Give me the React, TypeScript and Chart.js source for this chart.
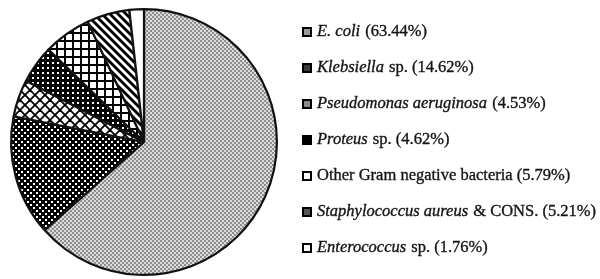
import React, { useEffect, useRef } from "react";
import { Chart, registerables } from "chart.js";

Chart.register(...registerables);

const names = [
  "E. coli",
  "Klebsiella",
  "Pseudomonas aeruginosa",
  "Proteus",
  "Other Gram negative bacteria",
  "Staphylococcus aureus",
  "Enterococcus",
];
const nameItalic = [true, true, true, true, false, true, true];
const suffixes = ["", " sp.", "", " sp.", "", " & CONS.", " sp."];
const percents = [63.44, 14.62, 4.53, 4.62, 5.79, 5.21, 1.76];

const FONT = '"Liberation Serif", serif';
const FONT_SIZE = 16.5;
const ICON_FILLS = ["#9a9a9a", "#3a3a3a", "#8a8a8a", "#000", "#fff", "#555", "#fff"];

function tile(size: number, draw: (g: CanvasRenderingContext2D, s: number) => void) {
  const c = document.createElement("canvas");
  c.width = size;
  c.height = size;
  const g = c.getContext("2d")!;
  draw(g, size);
  return c;
}

function diag(g: CanvasRenderingContext2D, s: number, dir: number, w: number) {
  g.strokeStyle = "#000";
  g.lineWidth = w;
  for (const off of [-s, 0, s]) {
    g.beginPath();
    if (dir > 0) {
      g.moveTo(off - 1, -1);
      g.lineTo(off + s + 1, s + 1);
    } else {
      g.moveTo(off + s + 1, -1);
      g.lineTo(off - 1, s + 1);
    }
    g.stroke();
  }
}

function makeTiles() {
  return [
    tile(4, (g) => {
      g.fillStyle = "#dcdcdc";
      g.fillRect(0, 0, 4, 4);
      g.fillStyle = "#8e8e8e";
      g.fillRect(0, 0, 2, 2);
      g.fillRect(2, 2, 2, 2);
    }),
    tile(6, (g) => {
      g.fillStyle = "#000";
      g.fillRect(0, 0, 6, 6);
      g.fillStyle = "#fff";
      g.fillRect(0, 0, 2, 2);
      g.fillRect(3, 3, 2, 2);
    }),
    tile(10, (g, s) => {
      g.fillStyle = "#fff";
      g.fillRect(0, 0, s, s);
      diag(g, s, 1, 1.8);
      diag(g, s, -1, 1.8);
    }),
    tile(5, (g) => {
      g.fillStyle = "#000";
      g.fillRect(0, 0, 5, 5);
      g.fillStyle = "#fff";
      g.fillRect(2, 2, 2, 2);
    }),
    tile(8, (g) => {
      g.fillStyle = "#fff";
      g.fillRect(0, 0, 8, 8);
      g.fillStyle = "#000";
      g.fillRect(0, 0, 2, 8);
      g.fillRect(0, 0, 8, 2);
    }),
    tile(8, (g, s) => {
      g.fillStyle = "#fff";
      g.fillRect(0, 0, s, s);
      diag(g, s, 1, 2.8);
    }),
    tile(4, (g) => {
      g.fillStyle = "#fff";
      g.fillRect(0, 0, 4, 4);
    }),
  ];
}

export default function App() {
  const ref = useRef<HTMLCanvasElement>(null);

  useEffect(() => {
    const canvas = ref.current!;
    const ctx = canvas.getContext("2d")!;
    const tiles = makeTiles();
    const patterns = tiles.map((t) => ctx.createPattern(t, "repeat")!);

    const legendPlugin = {
      id: "customLegend",
      afterDraw(chart: any) {
        const c: CanvasRenderingContext2D = chart.ctx;
        c.save();
        c.textBaseline = "middle";
        names.forEach((name, i) => {
          const y = 32 + i * 36;
          c.fillStyle = ICON_FILLS[i];
          c.fillRect(303, y - 4, 8, 8);
          c.strokeStyle = "#000";
          c.lineWidth = 2;
          c.strokeRect(303, y - 4, 8, 8);
          let x = 317;
          c.fillStyle = "#151515";
          c.strokeStyle = "#151515";
          c.lineWidth = 0.35;
          c.font = `${nameItalic[i] ? "italic " : ""}${FONT_SIZE}px ${FONT}`;
          c.fillText(name, x, y);
          c.strokeText(name, x, y);
          x += c.measureText(name).width + (nameItalic[i] ? 1 : 0);
          c.font = `${FONT_SIZE}px ${FONT}`;
          const rest = `${suffixes[i]} (${percents[i].toFixed(2)}%)`;
          c.fillText(rest, x, y);
          c.strokeText(rest, x, y);
        });
        c.restore();
      },
    };

    const chart = new Chart(canvas, {
      type: "pie",
      data: {
        labels: names,
        datasets: [
          {
            data: percents,
            backgroundColor: patterns as any,
            borderColor: "#111",
            borderWidth: 2.2,
          },
        ],
      },
      options: {
        responsive: true,
        maintainAspectRatio: false,
        animation: false,
        layout: { padding: { left: 10, top: 7, right: 322, bottom: 2 } },
        plugins: {
          legend: { display: false },
          tooltip: { enabled: false },
        },
      },
      plugins: [legendPlugin],
    });
    return () => chart.destroy();
  }, []);

  return (
    <div style={{ position: "fixed", left: 0, top: 0, width: 600, height: 279, background: "#fff" }}>
      <canvas ref={ref} />
    </div>
  );
}
